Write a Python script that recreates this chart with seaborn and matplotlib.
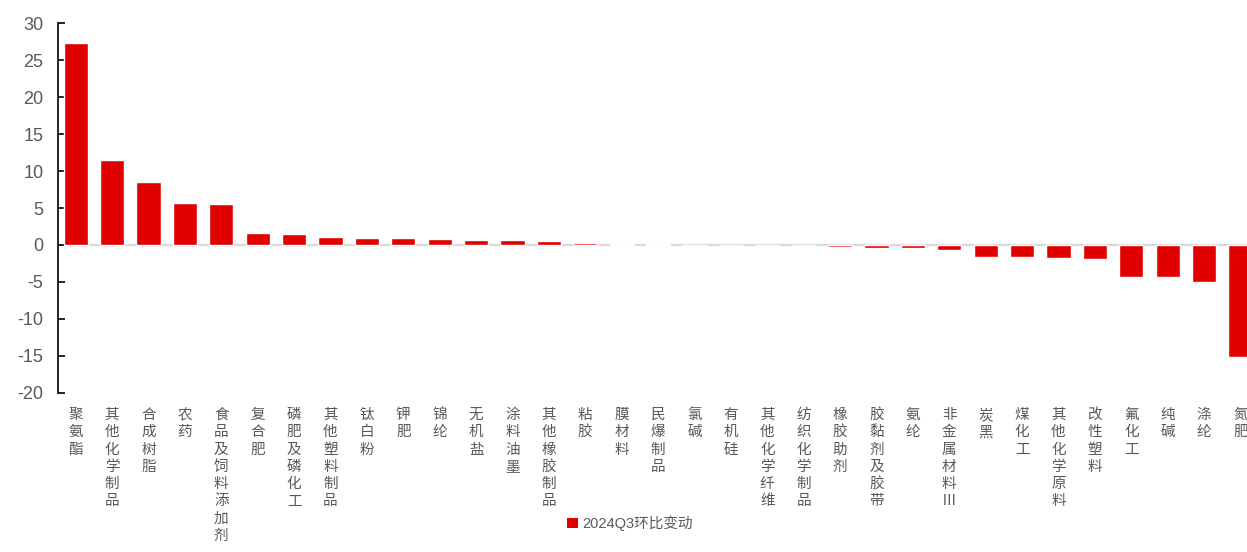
import matplotlib
matplotlib.use("Agg")
import matplotlib.pyplot as plt
import seaborn as sns
import pandas as pd
from matplotlib.patches import Patch

# 子行业及 2024Q3 环比变动（pct）
categories = [
    "聚氨酯", "其他化学制品", "合成树脂", "农药", "食品及饲料添加剂", "复合肥",
    "磷肥及磷化工", "其他塑料制品", "钛白粉", "钾肥", "锦纶", "无机盐", "涂料油墨",
    "其他橡胶制品", "粘胶", "膜材料", "民爆制品", "氯碱", "有机硅", "其他化学纤维",
    "纺织化学制品", "橡胶助剂", "胶黏剂及胶带", "氨纶", "非金属材料Ⅲ", "炭黑",
    "煤化工", "其他化学原料", "改性塑料", "氟化工", "纯碱", "涤纶", "氮肥",
]
values = [
    27.3, 11.55, 8.55, 5.7, 5.55, 1.63, 1.5, 1.14, 0.96, 0.9, 0.87, 0.73, 0.68,
    0.55, 0.3, 0.18, 0.08, 0.02, 0.01, -0.03, -0.06, -0.3, -0.35, -0.45, -0.75,
    -1.6, -1.6, -1.8, -1.93, -4.3, -4.4, -5.0, -15.2,
]
series_name = "2024Q3环比变动"
y_ticks = [30, 25, 20, 15, 10, 5, 0, -5, -10, -15, -20]

sns.set_theme(style="white")
plt.rcParams["font.family"] = ["Liberation Sans", "Noto Sans CJK SC", "DejaVu Sans"]

bar_color = "#E00000"
text_gray = "#595959"

df = pd.DataFrame({"category": categories, "value": values})

fig = plt.figure(figsize=(12.47, 5.52), dpi=100)
ax = fig.add_axes([57.5 / 1247, 1 - 392.7 / 552, 33 * 36.4 / 1247, (392.7 - 23.3) / 552])

# 零轴线放在柱子下层
ax.axhline(0, color="#D9D9D9", lw=1.6, zorder=0.5)

sns.barplot(data=df, x="category", y="value", color=bar_color, width=0.67,
            saturation=1, ax=ax, zorder=2)

ax.set_xlim(-0.5, len(categories) - 0.5)
ax.set_ylim(-20, 30)
ax.set_yticks(y_ticks)
ax.set_yticklabels([str(t) for t in y_ticks], color=text_gray, fontsize=13,
                   family=["Liberation Sans", "DejaVu Sans"])
ax.tick_params(axis="y", direction="in", length=5, width=1.2, color="black",
               left=True, pad=10)

# 竖排类目标签
vertical = ["\n".join(c) for c in categories]
ax.set_xticks(range(len(categories)))
ax.set_xticklabels(vertical, rotation=0, va="top", ha="center", fontsize=10.5,
                   color=text_gray, linespacing=1.3,
                   family=["Noto Sans CJK SC", "DejaVu Sans"])
ax.tick_params(axis="x", length=0, pad=11)

ax.set_xlabel("")
ax.set_ylabel("")

for side in ["top", "right", "bottom"]:
    ax.spines[side].set_visible(False)
ax.spines["left"].set_color("black")
ax.spines["left"].set_linewidth(1.2)

handles = [Patch(facecolor=bar_color, edgecolor="none")]
fig.legend(handles, [series_name], loc="center", bbox_to_anchor=(630 / 1247, 1 - 523 / 552),
           frameon=False, handlelength=0.7, handleheight=0.7,
           handletextpad=0.3, labelcolor=text_gray,
           prop={"family": ["Liberation Sans", "Noto Sans CJK SC"], "size": 10.5})

fig.savefig("out.png", dpi=100)
